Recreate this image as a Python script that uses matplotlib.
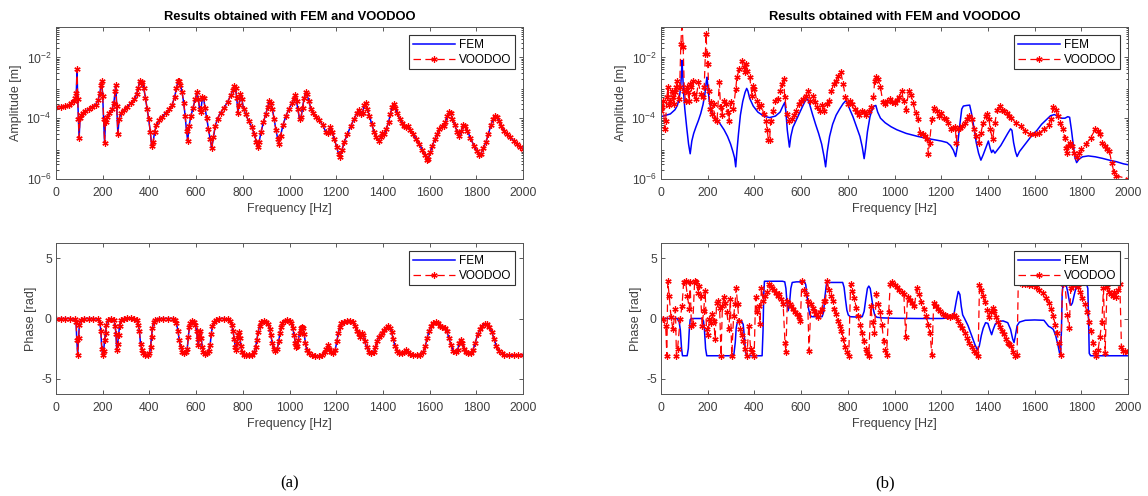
#!/usr/bin/env python3

import numpy as np
import matplotlib
matplotlib.use('Agg')
import matplotlib.pyplot as plt

# ---- (a) amplitude, log10 of [m] ----
freq_amp_a = [0, 20, 40, 55, 65, 75, 82, 87, 90, 93, 96, 99, 103, 108, 115, 125, 140, 155, 170, 180,
              188, 193, 196, 200, 204, 208, 212, 218, 228, 240, 248, 253, 256, 260, 265, 270, 278, 290, 305, 320,
              335, 345, 352, 358, 364, 370, 376, 383, 390, 397, 404, 410, 416, 422, 430, 442, 455, 470, 485, 498,
              508, 516, 522, 527, 533, 540, 547, 553, 559, 564, 570, 578, 587, 596, 604, 610, 615, 620, 627, 632,
              638, 645, 653, 660, 667, 674, 682, 692, 705, 720, 735, 748, 757, 764, 769, 774, 779, 784, 790, 796,
              803, 812, 825, 838, 850, 858, 864, 870, 878, 888, 898, 907, 914, 920, 927, 934, 942, 950, 955, 962,
              972, 985, 998, 1010, 1018, 1024, 1030, 1036, 1043, 1050, 1056, 1063, 1069, 1075, 1083, 1092, 1102, 1115, 1128, 1142,
              1155, 1165, 1174, 1183, 1192, 1202, 1210, 1216, 1224, 1235, 1248, 1262, 1276, 1288, 1298, 1306, 1313, 1320, 1326, 1333,
              1342, 1352, 1362, 1372, 1382, 1390, 1398, 1406, 1414, 1424, 1432, 1440, 1446, 1453, 1462, 1472, 1482, 1490, 1498, 1506,
              1515, 1528, 1542, 1555, 1568, 1580, 1588, 1595, 1603, 1612, 1622, 1632, 1642, 1652, 1660, 1668, 1676, 1684, 1690, 1698,
              1708, 1718, 1728, 1736, 1744, 1752, 1762, 1775, 1790, 1802, 1812, 1820, 1830, 1842, 1852, 1862, 1872, 1880, 1888, 1896,
              1906, 1918, 1930, 1945, 1960, 1975, 1988, 2000]
voodoo_amp_a = [-3.62, -3.62, -3.60, -3.57, -3.51, -3.44, -3.34, -3.17, -2.38, -3.38, -4.03, -4.65, -3.98, -3.88, -3.84, -3.77, -3.71, -3.64, -3.55, -3.41,
                -3.17, -2.90, -2.77, -3.28, -4.03, -4.81, -4.14, -3.95, -3.84, -3.71, -3.49, -3.11, -2.90, -3.60, -4.52, -4.03, -3.84, -3.73, -3.62, -3.51,
                -3.38, -3.22, -3.01, -2.79, -2.84, -2.82, -3.01, -3.33, -3.69, -4.03, -4.46, -4.92, -4.79, -4.46, -4.23, -4.05, -3.95, -3.82, -3.71, -3.55,
                -3.30, -3.01, -2.79, -2.76, -2.90, -3.15, -3.49, -3.92, -4.41, -4.76, -4.25, -3.92, -3.65, -3.38, -3.15, -3.38, -3.71, -3.79, -3.30, -3.33,
                -3.65, -3.98, -4.36, -4.68, -4.98, -4.63, -4.25, -4.01, -3.82, -3.65, -3.47, -3.25, -3.08, -2.95, -3.01, -3.33, -3.82, -3.55, -3.22, -3.38,
                -3.69, -3.87, -4.09, -4.30, -4.52, -4.79, -4.95, -4.77, -4.46, -4.14, -3.87, -3.62, -3.44, -3.49, -3.71, -4.03, -4.38, -4.70, -4.84, -4.57,
                -4.23, -3.92, -3.69, -3.51, -3.36, -3.25, -3.44, -3.71, -4.03, -3.95, -3.65, -3.33, -3.15, -3.22, -3.44, -3.69, -3.84, -3.95, -4.05, -4.23,
                -4.44, -4.49, -4.30, -4.46, -4.68, -4.95, -5.17, -5.28, -5.06, -4.77, -4.52, -4.27, -4.03, -3.84, -3.73, -3.87, -3.82, -3.58, -3.49, -3.69,
                -3.92, -4.19, -4.44, -4.63, -4.74, -4.63, -4.49, -4.52, -4.36, -4.14, -3.87, -3.62, -3.54, -3.65, -3.84, -4.03, -4.16, -4.27, -4.30, -4.25,
                -4.38, -4.52, -4.68, -4.84, -5.03, -5.22, -5.37, -5.33, -5.11, -4.90, -4.70, -4.52, -4.36, -4.27, -4.25, -4.12, -3.92, -3.78, -3.84, -4.01,
                -4.23, -4.44, -4.57, -4.41, -4.21, -4.25, -4.41, -4.66, -4.90, -5.09, -5.22, -5.17, -4.98, -4.77, -4.52, -4.23, -4.03, -3.92, -3.95, -4.09,
                -4.25, -4.41, -4.52, -4.63, -4.74, -4.84, -4.94, -5.00]
# FEM lies under the VOODOO markers in (a)
fem_amp_a = voodoo_amp_a

# ---- (a) phase [rad] ----
freq_ph_a = [0, 20, 40, 60, 80, 86, 89, 93, 97, 100, 106, 120, 140, 160, 180, 188, 192, 196, 200, 204,
             208, 212, 216, 222, 235, 248, 253, 257, 260, 264, 268, 272, 278, 290, 305, 320, 335, 345, 352, 357,
             362, 368, 374, 382, 392, 400, 405, 409, 413, 418, 425, 440, 460, 480, 500, 510, 516, 522, 528, 534,
             540, 548, 556, 562, 567, 571, 576, 583, 590, 596, 602, 606, 610, 614, 618, 622, 626, 631, 638, 646,
             654, 660, 665, 670, 676, 685, 700, 720, 735, 745, 752, 758, 763, 768, 772, 776, 780, 784, 788, 792,
             797, 805, 815, 828, 840, 848, 855, 860, 866, 872, 880, 890, 900, 908, 915, 920, 926, 932, 940, 948,
             954, 959, 964, 970, 980, 990, 1000, 1008, 1014, 1020, 1025, 1029, 1034, 1038, 1043, 1048, 1053, 1058, 1063, 1068,
             1074, 1082, 1095, 1110, 1125, 1140, 1150, 1158, 1165, 1170, 1178, 1188, 1196, 1203, 1209, 1215, 1222, 1232, 1245, 1258,
             1270, 1280, 1290, 1298, 1304, 1310, 1316, 1322, 1330, 1340, 1350, 1360, 1368, 1375, 1382, 1390, 1398, 1406, 1414, 1422,
             1430, 1437, 1444, 1452, 1460, 1470, 1480, 1490, 1498, 1506, 1515, 1530, 1545, 1560, 1572, 1582, 1590, 1598, 1606, 1616,
             1626, 1636, 1645, 1655, 1665, 1673, 1682, 1692, 1702, 1712, 1720, 1728, 1734, 1740, 1748, 1756, 1766, 1776, 1786, 1796,
             1806, 1816, 1826, 1836, 1846, 1856, 1866, 1876, 1886, 1896, 1908, 1920, 1940, 1960, 1980, 2000]
voodoo_ph_a = [0, 0, 0, 0, -0.05, -0.3, -1.8, -3.0, -1.6, -0.5, -0.1, 0, 0, 0, -0.05, -0.4, -1.0, -2.5, -3.0, -2.7,
               -1.8, -1.2, -0.5, -0.1, 0, -0.1, -0.6, -1.3, -2.6, -2.1, -1.4, -0.6, -0.1, 0.0, 0.05, 0.05, 0.0, -0.1, -0.5, -1.0,
               -2.1, -2.6, -2.9, -3.05, -3.05, -2.9, -2.4, -1.5, -0.8, -0.3, -0.1, 0, 0, 0, 0, -0.1, -0.4, -1.0, -1.8, -2.4,
               -2.75, -2.9, -2.8, -2.5, -1.5, -0.7, -0.4, -0.2, -0.25, -0.5, -1.0, -1.7, -2.2, -1.4, -1.0, -1.6, -2.4, -2.8, -2.95, -2.9,
               -2.7, -2.2, -1.3, -0.6, -0.3, -0.1, 0, 0, -0.05, -0.2, -0.5, -1.0, -1.7, -2.4, -2.6, -2.0, -1.4, -1.1, -1.6, -2.3,
               -2.8, -3.0, -3.05, -3.05, -3.0, -2.8, -2.4, -1.8, -1.1, -0.6, -0.3, -0.2, -0.25, -0.45, -0.9, -1.4, -2.0, -2.5, -2.7, -2.5,
               -1.9, -1.2, -0.7, -0.4, -0.2, -0.15, -0.2, -0.4, -0.8, -1.4, -2.0, -2.35, -2.3, -1.8, -1.2, -0.8, -0.7, -0.8, -1.3, -2.0,
               -2.6, -2.9, -3.05, -3.1, -3.1, -3.0, -2.8, -2.5, -2.2, -2.5, -2.8, -2.9, -2.6, -1.9, -1.2, -0.7, -0.4, -0.25, -0.2, -0.2,
               -0.3, -0.6, -1.0, -1.3, -1.5, -1.2, -1.4, -1.9, -2.4, -2.75, -2.9, -2.8, -2.4, -1.9, -1.5, -1.4, -1.2, -0.95, -0.75, -0.65,
               -0.75, -1.1, -1.7, -2.3, -2.7, -2.9, -2.9, -2.8, -2.6, -2.8, -2.95, -3.05, -3.05, -3.0, -2.8, -2.3, -1.6, -1.0, -0.6, -0.35,
               -0.3, -0.4, -0.6, -0.7, -0.75, -1.0, -1.6, -2.2, -2.7, -2.8, -2.6, -2.0, -1.75, -2.0, -2.5, -2.8, -2.9, -2.85, -2.6, -2.0,
               -1.3, -0.9, -0.6, -0.45, -0.45, -0.7, -1.1, -1.7, -2.3, -2.7, -2.9, -3.0, -3.05, -3.05, -3.05, -3.0]
fem_ph_a = voodoo_ph_a

# ---- (b) FEM amplitude, log10 ----
freq_fem_amp_b = [0, 40, 60, 70, 78, 84, 88, 90, 93, 97, 102, 110, 118, 125, 132, 140, 150, 160, 170, 180,
                  188, 194, 197, 201, 206, 215, 230, 250, 270, 285, 298, 308, 315, 320, 325, 332, 340, 350, 360, 367,
                  372, 380, 395, 415, 440, 465, 490, 510, 522, 530, 535, 541, 550, 556, 565, 580, 595, 610, 620, 627,
                  635, 648, 662, 675, 688, 698, 705, 712, 722, 735, 750, 765, 780, 792, 798, 808, 822, 838, 852, 862,
                  870, 876, 884, 895, 905, 913, 920, 928, 940, 960, 985, 1010, 1050, 1100, 1150, 1200, 1225, 1240, 1252, 1262,
                  1270, 1280, 1288, 1295, 1310, 1322, 1330, 1340, 1350, 1360, 1370, 1380, 1392, 1402, 1410, 1416, 1422, 1430, 1440, 1455,
                  1470, 1485, 1497, 1503, 1510, 1518, 1525, 1535, 1550, 1570, 1590, 1610, 1630, 1650, 1668, 1685, 1700, 1715, 1730, 1742,
                  1750, 1758, 1766, 1773, 1780, 1790, 1805, 1830, 1860, 1890, 1920, 1950, 1980, 2000]
fem_amp_b = [-3.95, -3.86, -3.72, -3.58, -3.35, -3.0, -2.5, -2.1, -2.6, -3.2, -3.7, -4.3, -4.85, -5.17, -4.75, -4.5, -4.28, -4.08, -3.85, -3.55,
             -3.2, -2.8, -2.65, -3.0, -3.4, -3.75, -3.95, -4.15, -4.38, -4.6, -4.85, -5.1, -5.3, -5.6, -5.1, -4.5, -3.9, -3.45, -3.15, -3.02,
             -3.1, -3.35, -3.6, -3.8, -3.93, -3.98, -3.93, -3.8, -3.6, -3.48, -3.8, -4.4, -4.95, -4.6, -4.3, -4.05, -3.8, -3.55, -3.4, -3.37,
             -3.5, -3.85, -4.2, -4.5, -4.85, -5.25, -5.6, -5.1, -4.6, -4.2, -3.9, -3.7, -3.52, -3.42, -3.5, -3.7, -3.95, -4.3, -4.6, -4.95,
             -5.33, -5.0, -4.45, -3.95, -3.7, -3.6, -3.58, -3.8, -4.0, -4.15, -4.28, -4.38, -4.5, -4.6, -4.68, -4.75, -4.8, -4.9, -5.05, -5.26,
             -4.9, -4.2, -3.7, -3.6, -3.58, -3.57, -3.85, -4.3, -4.8, -5.15, -5.38, -5.2, -4.95, -4.75, -5.0, -5.13, -5.05, -5.15, -5.05, -4.9,
             -4.7, -4.5, -4.35, -4.4, -4.8, -5.1, -5.26, -5.1, -4.95, -4.75, -4.55, -4.4, -4.2, -4.05, -3.92, -3.88, -3.95, -4.0, -4.0, -3.95,
             -3.97, -4.4, -4.9, -5.3, -5.46, -5.35, -5.27, -5.24, -5.27, -5.32, -5.38, -5.43, -5.5, -5.53]

# ---- (b) VOODOO amplitude, log10 ----
freq_voo_amp_b = [0, 5, 10, 15, 20, 25, 30, 35, 40, 45, 50, 55, 60, 65, 70, 75, 80, 85, 90, 95,
                  100, 105, 110, 115, 120, 125, 130, 135, 140, 150, 160, 170, 180, 185, 190, 193, 197, 200, 205, 210,
                  215, 220, 225, 230, 240, 250, 255, 260, 270, 280, 285, 290, 300, 310, 320, 325, 335, 345, 355, 360,
                  365, 370, 380, 390, 395, 400, 410, 420, 430, 440, 450, 455, 460, 465, 470, 480, 490, 500, 510, 520,
                  525, 530, 540, 550, 560, 570, 580, 590, 600, 610, 620, 630, 640, 650, 660, 670, 680, 690, 700, 710,
                  720, 730, 740, 750, 760, 770, 780, 790, 800, 810, 820, 830, 840, 850, 860, 870, 880, 890, 900, 910,
                  915, 920, 930, 940, 950, 960, 970, 980, 990, 1000, 1010, 1020, 1030, 1040, 1050, 1060, 1070, 1080, 1090, 1100,
                  1110, 1120, 1130, 1140, 1145, 1150, 1160, 1170, 1180, 1190, 1200, 1210, 1220, 1230, 1240, 1250, 1260, 1265, 1270, 1280,
                  1290, 1300, 1310, 1320, 1330, 1340, 1350, 1360, 1370, 1380, 1390, 1395, 1405, 1410, 1420, 1430, 1440, 1450, 1460, 1470,
                  1480, 1490, 1500, 1520, 1540, 1560, 1580, 1600, 1620, 1640, 1660, 1670, 1680, 1690, 1700, 1710, 1720, 1730, 1735, 1740,
                  1745, 1750, 1760, 1770, 1780, 1790, 1800, 1820, 1840, 1860, 1870, 1880, 1890, 1900, 1910, 1920, 1930, 1940, 1950, 2000]
voodoo_amp_b = [-3.75, -3.64, -3.42, -4.35, -4.08, -3.31, -2.98, -3.58, -3.42, -3.09, -3.31, -3.53, -3.15, -2.98, -2.77, -3.37, -2.98, -1.56, -0.8, -1.67,
                -3.09, -3.42, -2.98, -3.15, -3.42, -2.87, -2.98, -2.77, -3.20, -3.37, -2.82, -3.20, -3.31, -2.98, -1.89, -1.23, -1.89, -2.22, -3.09, -3.69,
                -3.48, -3.86, -3.53, -4.02, -4.08, -2.82, -3.64, -3.91, -3.42, -3.53, -3.80, -4.08, -3.48, -3.69, -3.04, -2.66, -2.38, -2.11, -2.33, -2.49,
                -2.22, -2.44, -2.66, -3.26, -2.93, -3.04, -3.42, -3.64, -3.58, -3.86, -4.08, -4.40, -4.73, -4.73, -4.08, -3.75, -3.42, -3.37, -3.09, -2.87,
                -2.71, -3.31, -3.86, -4.08, -4.02, -3.91, -3.75, -3.53, -3.42, -3.37, -3.26, -3.09, -3.42, -3.26, -3.48, -3.64, -3.75, -3.58, -3.75, -3.53,
                -3.42, -3.09, -2.87, -2.77, -2.60, -2.49, -2.87, -3.31, -3.53, -3.42, -3.53, -3.69, -3.80, -3.91, -3.75, -3.80, -3.91, -3.75, -3.64, -3.31,
                -2.77, -2.66, -2.71, -2.98, -3.48, -3.53, -3.42, -3.37, -3.48, -3.50, -3.39, -3.30, -3.12, -3.45, -3.72, -3.12, -3.23, -3.50, -3.83, -4.04,
                -4.48, -4.53, -4.59, -4.70, -5.18, -4.80, -4.04, -3.66, -3.77, -3.93, -3.83, -3.99, -4.04, -4.15, -4.37, -4.32, -4.28, -4.80, -4.37, -4.32,
                -4.26, -4.15, -4.04, -3.93, -4.04, -4.37, -4.59, -4.80, -4.48, -4.15, -3.93, -3.86, -4.04, -4.37, -4.70, -4.15, -3.72, -3.61, -3.72, -3.77,
                -3.83, -3.93, -3.99, -4.15, -4.26, -4.42, -4.53, -4.53, -4.48, -4.37, -4.21, -4.04, -3.63, -3.72, -3.93, -4.15, -4.37, -4.64, -4.97, -5.13,
                -4.91, -4.80, -4.91, -5.13, -5.29, -5.13, -5.02, -4.86, -4.64, -4.37, -4.42, -4.53, -4.80, -4.91, -5.02, -5.08, -5.46, -5.78, -5.89, -6.0]

# ---- (b) FEM phase [rad] ----
freq_fem_ph_b = [0, 40, 70, 78, 83, 88, 92, 100, 112, 117, 121, 125, 130, 150, 175, 182, 186, 191, 196, 220,
                 260, 300, 312, 318, 322, 327, 335, 345, 352, 357, 362, 367, 400, 433, 437, 440, 443, 480, 520, 530,
                 535, 540, 545, 550, 556, 562, 580, 615, 620, 626, 632, 638, 645, 670, 690, 696, 702, 708, 714, 750,
                 778, 784, 790, 796, 802, 810, 840, 862, 870, 877, 884, 890, 896, 903, 910, 916, 925, 950, 1000, 1100,
                 1200, 1240, 1255, 1265, 1273, 1280, 1286, 1292, 1300, 1315, 1330, 1345, 1355, 1363, 1372, 1380, 1390, 1400, 1408, 1416,
                 1423, 1432, 1445, 1465, 1485, 1497, 1506, 1512, 1518, 1525, 1535, 1560, 1600, 1640, 1650, 1660, 1670, 1680, 1690, 1700,
                 1706, 1711, 1715, 1718, 1722, 1735, 1742, 1750, 1756, 1762, 1770, 1778, 1788, 1800, 1822, 1828, 1831, 1834, 1840, 1900,
                 1950, 2000]
fem_ph_b = [0, 0, 0, -0.3, -1.0, -2.5, -3.1, -3.1, -3.1, -2.5, -1.0, -0.1, 0, 0, 0, -0.2, -0.9, -2.5, -3.1, -3.1,
            -3.1, -3.1, -3.0, -2.0, -0.8, -0.3, -0.2, -0.2, -0.5, -1.5, -2.8, -3.1, -3.1, -3.1, -1.0, 2.0, 3.1, 3.1, 3.1, 3.05,
            2.5, 1.2, 0.65, 1.2, 2.5, 3.0, 3.05, 3.05, 2.8, 1.8, 0.8, 0.3, 0.15, 0.15, 0.15, 0.5, 1.8, 2.8, 3.0, 3.0,
            3.0, 2.6, 1.6, 0.7, 0.3, 0.15, 0.12, 0.15, 0.6, 1.6, 2.5, 2.7, 2.5, 1.6, 0.7, 0.25, 0.1, 0.05, 0.02, 0.0,
            0.0, 0.05, 0.4, 1.5, 2.25, 2.0, 1.0, 0.3, 0.0, -0.6, -1.4, -2.2, -2.6, -2.3, -1.4, -0.8, -0.35, -0.4, -0.9, -1.35,
            -0.9, -0.45, -0.25, -0.2, -0.35, -0.9, -1.7, -2.0, -1.4, -0.6, -0.3, -0.15, -0.12, -0.15, -0.4, -0.65, -0.75, -0.9, -1.4, -2.2,
            -2.8, -3.1, -1.0, 2.0, 2.9, 2.8, 2.2, 1.3, 1.1, 1.3, 2.0, 2.6, 2.85, 2.9, 2.9, 2.5, 0.0, -2.9, -3.1, -3.1,
            -3.1, -3.1]

# ---- (b) VOODOO phase [rad] ----
freq_voo_ph_b = [0, 9, 20, 25, 29, 35, 43, 51, 62, 66, 71, 82, 90, 97, 105, 113, 121, 125, 130, 136,
                 144, 152, 159, 164, 170, 176, 183, 189, 195, 201, 207, 213, 220, 226, 232, 238, 244, 251, 257, 263,
                 269, 275, 282, 291, 297, 303, 311, 317, 322, 328, 334, 340, 346, 353, 360, 368, 376, 384, 391, 399,
                 405, 411, 418, 424, 430, 438, 445, 453, 461, 469, 476, 484, 492, 500, 507, 515, 523, 531, 535, 541,
                 551, 558, 566, 574, 582, 589, 597, 603, 611, 619, 628, 634, 642, 650, 657, 665, 673, 681, 688, 696,
                 704, 712, 719, 727, 735, 742, 750, 758, 766, 773, 781, 789, 797, 804, 812, 820, 828, 836, 844, 852,
                 860, 868, 876, 884, 890, 898, 906, 914, 922, 930, 938, 946, 954, 960, 966, 975, 982, 990, 1000, 1010,
                 1020, 1030, 1040, 1048, 1056, 1065, 1075, 1085, 1095, 1105, 1115, 1125, 1135, 1145, 1152, 1160, 1168, 1176, 1186, 1196,
                 1206, 1216, 1226, 1236, 1246, 1256, 1264, 1272, 1280, 1290, 1300, 1310, 1320, 1330, 1340, 1350, 1358, 1364, 1372, 1380,
                 1388, 1396, 1404, 1412, 1420, 1428, 1436, 1444, 1452, 1460, 1468, 1476, 1484, 1492, 1500, 1508, 1515, 1525, 1530, 1545,
                 1560, 1575, 1590, 1605, 1620, 1635, 1650, 1660, 1670, 1680, 1688, 1696, 1704, 1712, 1720, 1730, 1740, 1748, 1755, 1765,
                 1775, 1785, 1795, 1805, 1815, 1825, 1835, 1842, 1850, 1857, 1864, 1872, 1880, 1888, 1895, 1902, 1910, 1918, 1926, 1934,
                 1942, 1950, 1958, 1965, 1972, 1980, 1988, 2000]
voodoo_ph_b = [0, -0.05, -0.6, -3.1, 3.1, 1.9, 0.1, -0.9, 0.8, -3.1, -2.5, -0.05, 1.05, 3.0, 3.1, 1.9, 0.8, 3.0, -0.6, -0.45,
               3.1, 3.0, 2.15, 2.7, 1.9, -0.6, 0.65, 2.3, -0.9, -1.4, -0.05, -0.35, 0.35, -0.2, -1.7, 1.3, 1.45, 0.9, -3.1, 1.05,
               1.75, 1.3, 0.5, -0.9, 1.6, -3.1, 0.2, 1.2, 2.55, 1.2, -0.2, -0.9, -1.4, -1.85, -2.55, -3.1, -0.6, -2.55, -2.8, -3.1,
               1.75, 0.5, 1.05, -0.45, 2.55, 1.45, 1.9, 2.2, 2.85, 2.7, 2.55, 2.4, 2.15, 1.9, 2.0, 1.6, 1.2, -2.0, -2.8, 1.45,
               1.2, 1.05, 0.8, 0.5, 0.35, 0.1, -0.2, 3.1, 2.4, 2.0, 1.45, -2.7, 1.2, 0.9, 0.65, 0.35, 0.1, 0.5, 0.8, 1.45,
               1.45, 3.1, 2.4, 1.9, 1.45, 0.8, 0.35, -0.2, -0.6, -1.0, -1.7, -2.4, -2.8, -3.1, 2.9, 2.3, 1.7, 0.9, 0.2, -0.5,
               -1.2, -1.9, -2.5, -2.9, -3.1, 1.0, -0.3, -1.2, 2.0, 1.2, 0.5, -0.5, -1.9, -2.6, -3.0, 0.5, 2.9, 3.0, 2.8, 2.6,
               2.4, 2.2, 2.0, -1.5, 1.8, 1.5, 1.3, 1.0, 2.5, 2.0, 1.4, 0.8, 0.2, -0.5, -1.2, -3.0, 1.3, 1.0, 0.8, 0.6,
               0.4, 0.3, 0.2, 0.1, 0.2, 0.3, 0.1, -0.2, -0.5, -0.8, -1.2, -1.6, -2.0, -2.4, -2.7, -2.9, -3.1, 2.8, 2.4, 1.9,
               1.4, 0.7, 0.1, 0.5, 0.9, 0.6, 0.1, -0.3, -0.7, -1.0, -1.3, -1.7, -2.0, -2.1, -2.3, -2.8, -3.1, -3.0, 3.0, 2.9,
               2.9, 2.8, 2.75, 2.6, 2.4, 2.1, 1.7, 1.3, 0.8, 0.2, -0.5, -1.2, -2.0, -3.0, 2.9, 3.0, 0.3, -0.8, 2.5, 2.8,
               2.9, 2.6, 2.2, 1.7, 1.2, 0.5, -0.3, -1.0, -2.0, -2.8, -3.1, -2.6, -1.5, -0.3, 2.5, -2.9, 2.6, 2.2, 2.0, 1.9,
               2.2, 1.8, 2.4, 2.9, -2.4, -2.7, -2.7, -2.8]

freq_ticks = list(range(0, 2001, 200))
AX_GREY = '#404040'


def style_axes(ax, ylabel):
    ax.set_xlim(0, 2000)
    ax.set_xticks(freq_ticks)
    ax.set_xlabel('Frequency [Hz]', fontsize=9, color=AX_GREY, labelpad=2.5)
    ax.set_ylabel(ylabel, fontsize=9, color=AX_GREY, labelpad=3)
    ax.tick_params(direction='in', top=True, right=True, labelsize=8.8,
                   colors=AX_GREY, length=3, width=0.6)
    ax.tick_params(axis='x', pad=6)
    ax.tick_params(axis='y', pad=3)
    ax.tick_params(which='minor', direction='in', top=False, right=True, length=1.8, width=0.5)
    for sp in ax.spines.values():
        sp.set_color('#555555')
        sp.set_linewidth(0.7)
    leg = ax.legend(loc='upper right', fontsize=8.5, handlelength=3.6, handletextpad=0.3,
                    borderpad=0.3, labelspacing=0.25, fancybox=False, framealpha=1,
                    borderaxespad=0.7)
    leg.get_frame().set_edgecolor('#333333')
    leg.get_frame().set_linewidth(0.8)


def plot_amp(ax, f_fem, e_fem, f_voo, e_voo, title):
    ax.plot(f_fem, 10.0 ** np.array(e_fem), '-', color='b', lw=1.1, label='FEM')
    ax.plot(f_voo, 10.0 ** np.array(e_voo), '--', color='r', lw=0.9, dashes=(6, 3.5),
            marker=(6, 2, 0), ms=4.5, mew=0.9, label='VOODOO')
    ax.set_yscale('log')
    ax.set_ylim(1e-6, 1e-1)
    ax.set_yticks([1e-6, 1e-4, 1e-2])
    ax.set_title(title, fontsize=9.3, fontweight='bold', pad=5)
    style_axes(ax, 'Amplitude [m]')


def plot_phase(ax, f_fem, p_fem, f_voo, p_voo):
    ax.plot(f_fem, p_fem, '-', color='b', lw=1.1, label='FEM')
    ax.plot(f_voo, p_voo, '--', color='r', lw=0.9, dashes=(6, 3.5),
            marker=(6, 2, 0), ms=4.5, mew=0.9, label='VOODOO')
    ax.set_ylim(-2 * np.pi, 2 * np.pi)
    ax.set_yticks([-5, 0, 5])
    style_axes(ax, 'Phase [rad]')


def main():
    plt.rcParams['font.family'] = ['Liberation Sans', 'DejaVu Sans']
    plt.rcParams['mathtext.fontset'] = 'custom'
    plt.rcParams['mathtext.rm'] = 'Liberation Sans'
    plt.rcParams['mathtext.default'] = 'regular'
    plt.rcParams['axes.unicode_minus'] = False
    fig = plt.figure(figsize=(11.48, 4.96), dpi=100)

    W, H = 1148.0, 496.0
    def place(x0, x1, y0, y1):
        return fig.add_axes([x0 / W, 1 - y1 / H, (x1 - x0) / W, (y1 - y0) / H])

    ax_a1 = place(56, 523, 27, 179)
    ax_a2 = place(56, 523, 243, 394)
    ax_b1 = place(661, 1128, 27, 179)
    ax_b2 = place(661, 1128, 243, 394)

    title = 'Results obtained with FEM and VOODOO'
    plot_amp(ax_a1, freq_amp_a, fem_amp_a, freq_amp_a, voodoo_amp_a, title)
    plot_phase(ax_a2, freq_ph_a, fem_ph_a, freq_ph_a, voodoo_ph_a)
    plot_amp(ax_b1, freq_fem_amp_b, fem_amp_b, freq_voo_amp_b, voodoo_amp_b, title)
    plot_phase(ax_b2, freq_fem_ph_b, fem_ph_b, freq_voo_ph_b, voodoo_ph_b)

    fig.text(290 / W, 1 - 483 / H, '(a)', ha='center', va='center', fontsize=12,
             family=['Liberation Serif', 'DejaVu Serif'])
    fig.text(885 / W, 1 - 483 / H, '(b)', ha='center', va='center', fontsize=12,
             family=['Liberation Serif', 'DejaVu Serif'])

    fig.savefig('out.png', dpi=100, facecolor='white')
    return 0


if __name__ == "__main__":
    exit(main())
